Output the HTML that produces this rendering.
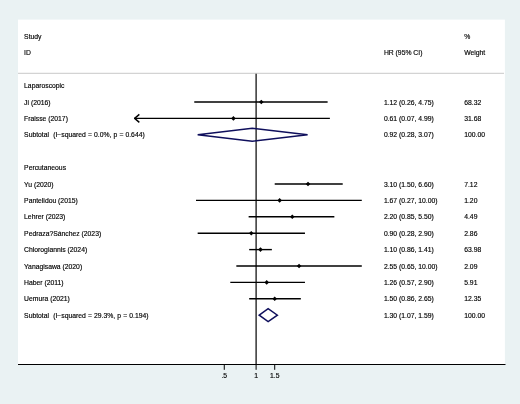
<!DOCTYPE html>
<html><head><meta charset="utf-8"><style>
html,body{margin:0;padding:0;background:#eaf2f3;}
body{width:520px;height:404px;overflow:hidden;}
svg{display:block;filter:blur(0.35px);}
text{white-space:pre;font-family:"Liberation Sans",Arial,sans-serif;font-size:6.8px;fill:#000;stroke:#000;stroke-width:0.15px;}
</style></head><body>
<svg xml:space="preserve" width="520" height="404" viewBox="0 0 520 404">
<rect x="0" y="0" width="520" height="404" fill="#eaf2f3"/>
<rect x="18" y="19.6" width="486.9" height="344.6" fill="#ffffff"/>
<line x1="18" y1="73.3" x2="504" y2="73.3" stroke="#c8c8c8" stroke-width="1"/>
<line x1="256.1" y1="73.7" x2="256.1" y2="364" stroke="#000" stroke-width="1.2"/>
<line x1="18" y1="364.5" x2="505.5" y2="364.5" stroke="#000" stroke-width="1"/>
<line x1="224.28" y1="364" x2="224.28" y2="369.8" stroke="#000" stroke-width="1"/>
<text x="224.28" y="378.00" text-anchor="middle">.5</text>
<line x1="256.10" y1="364" x2="256.10" y2="369.8" stroke="#000" stroke-width="1"/>
<text x="256.10" y="378.00" text-anchor="middle">1</text>
<line x1="274.71" y1="364" x2="274.71" y2="369.8" stroke="#000" stroke-width="1"/>
<text x="274.71" y="378.00" text-anchor="middle">1.5</text>
<text x="24.10" y="38.70">Study</text>
<text x="24.10" y="55.30">ID</text>
<text x="383.90" y="55.30">HR (95% CI)</text>
<text x="464.20" y="38.70">%</text>
<text x="464.20" y="55.30">Weight</text>
<text x="24.10" y="88.10">Laparoscopic</text>
<text x="24.10" y="104.50">Ji (2016)</text>
<text x="383.90" y="104.50">1.12 (0.26, 4.75)</text>
<text x="464.20" y="104.50">68.32</text>
<line x1="194.27" y1="102.0" x2="327.62" y2="102.0" stroke="#000" stroke-width="1.4"/>
<polygon points="259.00,102.0 261.30,99.7 263.60,102.0 261.30,104.3" fill="#000"/>
<text x="24.10" y="120.90">Fraisse (2017)</text>
<text x="383.90" y="120.90">0.61 (0.07, 4.99)</text>
<text x="464.20" y="120.90">31.68</text>
<line x1="134.04" y1="118.4" x2="329.88" y2="118.4" stroke="#000" stroke-width="1.4"/>
<polyline points="139.34,114.4 134.64,118.4 139.34,122.4" fill="none" stroke="#000" stroke-width="1.4" stroke-linejoin="round"/>
<polygon points="231.11,118.4 233.41,116.10000000000001 235.71,118.4 233.41,120.7" fill="#000"/>
<text x="24.10" y="137.30" word-spacing="0.2">Subtotal  (I−squared = 0.0%, p = 0.644)</text>
<text x="383.90" y="137.30">0.92 (0.28, 3.07)</text>
<text x="464.20" y="137.30">100.00</text>
<polygon points="197.67,134.8 252.27,128.3 307.59,134.8 252.27,141.3" fill="none" stroke="#0f0f5c" stroke-width="1.45"/>
<text x="24.10" y="170.10">Percutaneous</text>
<text x="24.10" y="186.50">Yu (2020)</text>
<text x="383.90" y="186.50">3.10 (1.50, 6.60)</text>
<text x="464.20" y="186.50">7.12</text>
<line x1="274.71" y1="184.0" x2="342.72" y2="184.0" stroke="#000" stroke-width="1.4"/>
<polygon points="305.73,184.0 308.03,181.7 310.33,184.0 308.03,186.3" fill="#000"/>
<text x="24.10" y="202.90">Pantelidou (2015)</text>
<text x="383.90" y="202.90">1.67 (0.27, 10.00)</text>
<text x="464.20" y="202.90">1.20</text>
<line x1="196.00" y1="200.39999999999998" x2="361.79" y2="200.39999999999998" stroke="#000" stroke-width="1.4"/>
<polygon points="277.34,200.39999999999998 279.64,198.09999999999997 281.94,200.39999999999998 279.64,202.7" fill="#000"/>
<text x="24.10" y="219.30">Lehrer (2023)</text>
<text x="383.90" y="219.30">2.20 (0.85, 5.50)</text>
<text x="464.20" y="219.30">4.49</text>
<line x1="248.64" y1="216.79999999999998" x2="334.35" y2="216.79999999999998" stroke="#000" stroke-width="1.4"/>
<polygon points="289.99,216.79999999999998 292.29,214.49999999999997 294.59,216.79999999999998 292.29,219.1" fill="#000"/>
<text x="24.10" y="235.70">Pedraza?Sánchez (2023)</text>
<text x="383.90" y="235.70">0.90 (0.28, 2.90)</text>
<text x="464.20" y="235.70">2.86</text>
<line x1="197.67" y1="233.2" x2="304.97" y2="233.2" stroke="#000" stroke-width="1.4"/>
<polygon points="248.96,233.2 251.26,230.89999999999998 253.56,233.2 251.26,235.5" fill="#000"/>
<text x="24.10" y="252.10">Chlorogiannis (2024)</text>
<text x="383.90" y="252.10">1.10 (0.86, 1.41)</text>
<text x="464.20" y="252.10">63.98</text>
<line x1="249.18" y1="249.6" x2="271.87" y2="249.6" stroke="#000" stroke-width="1.4"/>
<polygon points="258.17,249.6 260.47,247.29999999999998 262.77,249.6 260.47,251.9" fill="#000"/>
<text x="24.10" y="268.50">Yanagisawa (2020)</text>
<text x="383.90" y="268.50">2.55 (0.65, 10.00)</text>
<text x="464.20" y="268.50">2.09</text>
<line x1="236.33" y1="266.0" x2="361.79" y2="266.0" stroke="#000" stroke-width="1.4"/>
<polygon points="296.77,266.0 299.07,263.7 301.37,266.0 299.07,268.3" fill="#000"/>
<text x="24.10" y="284.90">Haber (2011)</text>
<text x="383.90" y="284.90">1.26 (0.57, 2.90)</text>
<text x="464.20" y="284.90">5.91</text>
<line x1="230.30" y1="282.4" x2="304.97" y2="282.4" stroke="#000" stroke-width="1.4"/>
<polygon points="264.41,282.4 266.71,280.09999999999997 269.01,282.4 266.71,284.7" fill="#000"/>
<text x="24.10" y="301.30">Uemura (2021)</text>
<text x="383.90" y="301.30">1.50 (0.86, 2.65)</text>
<text x="464.20" y="301.30">12.35</text>
<line x1="249.18" y1="298.79999999999995" x2="300.83" y2="298.79999999999995" stroke="#000" stroke-width="1.4"/>
<polygon points="272.41,298.79999999999995 274.71,296.49999999999994 277.01,298.79999999999995 274.71,301.09999999999997" fill="#000"/>
<text x="24.10" y="317.70" word-spacing="0.2">Subtotal  (I−squared = 29.3%, p = 0.194)</text>
<text x="383.90" y="317.70">1.30 (1.07, 1.59)</text>
<text x="464.20" y="317.70">100.00</text>
<polygon points="259.21,315.2 268.14,308.7 277.39,315.2 268.14,321.7" fill="none" stroke="#0f0f5c" stroke-width="1.45"/>
</svg>
</body></html>
